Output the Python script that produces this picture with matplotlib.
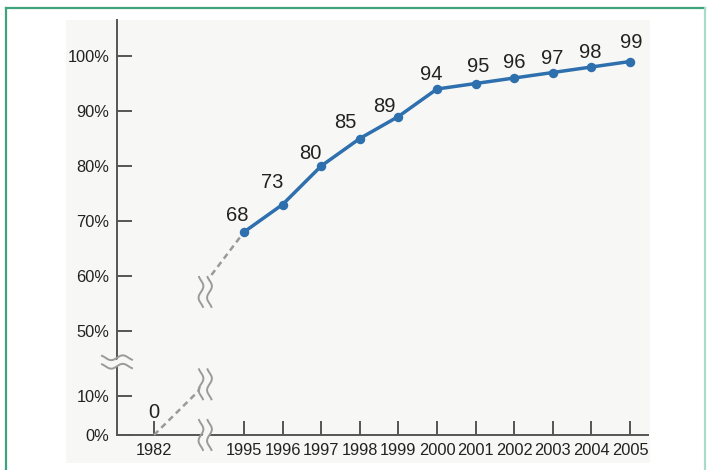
import numpy as np
import matplotlib
matplotlib.use("Agg")
import matplotlib.pyplot as plt
import matplotlib.transforms as mtransforms
from matplotlib.patches import Rectangle
from matplotlib.lines import Line2D

# --- data ---------------------------------------------------------------
years = [1982, 1995, 1996, 1997, 1998, 1999, 2000, 2001, 2002, 2003, 2004, 2005]
values = [0, 68, 73, 80, 85, 89, 94, 95, 96, 97, 98, 99]
ytick_values = [0, 10, 50, 60, 70, 80, 90, 100]
ytick_labels = ["0%", "10%", "50%", "60%", "70%", "80%", "90%", "100%"]

# where the dashed connector meets the axis breaks
break_year = 1989.4
break_low, break_high = 13.0, 58.7

# label nudges (pixels) relative to each point
label_dx = [0, -6.5, -10.5, -10.5, -14, -14.5, -6, 3, 0, -1, -1, 1]
label_dy = [17, 11, 16.5, 7, 11, 4.3, 9, 12, 10, 8, 9, 13]

# --- styling ------------------------------------------------------------
LINE_BLUE = "#2e6fae"
DASH_GREY = "#9a9a9a"
AXIS_GREY = "#555555"
PANEL = "#f7f7f5"
TEXT = "#222222"
FONT = ["Liberation Sans", "DejaVu Sans"]
plt.rcParams["font.family"] = FONT

W, H, DPI = 707, 470, 100
fig = plt.figure(figsize=(W / DPI, H / DPI), dpi=DPI)
fig.patch.set_facecolor("white")


def fx(px):
    return px / W


def fy(py):
    return 1 - py / H


# green frame and light panel
fig.add_artist(Line2D([fx(6), fx(6)], [fy(8), fy(471)], color="#3fa37c", lw=1.6))
fig.add_artist(Line2D([fx(6), fx(705)], [fy(8), fy(8)], color="#3fa37c", lw=1.6))
fig.add_artist(Line2D([fx(705), fx(705)], [fy(8), fy(471)], color="#a8dcc8", lw=1.6))
fig.add_artist(Rectangle((fx(66), fy(463)), fx(650) - fx(66), fy(20) - fy(463),
                         transform=fig.transFigure, facecolor=PANEL,
                         edgecolor="none", zorder=0))

ax = fig.add_axes([fx(117), fy(435), fx(648) - fx(117), fy(20) - fy(435)])
ax.set_facecolor("none")

# piecewise scales: compressed lower y band, compressed early x range
y_in = [-100, 0, 16, 48, 200]
y_out = [-390, 0, 62.4, 93, 104 + 150 * 5.5]
x_in = [1900, 1982, 1995, 2100]
x_out = [37 - 82 * (90 / 13), 37, 127, 127 + 105 * 38.6]

ax.set_yscale("function", functions=(lambda v: np.interp(v, y_in, y_out),
                                     lambda u: np.interp(u, y_out, y_in)))
ax.set_xscale("function", functions=(lambda v: np.interp(v, x_in, x_out),
                                     lambda u: np.interp(u, x_out, x_in)))
ax.set_ylim(0, 50 + 311 / 5.5)
ax.set_xlim(1982 - 37 / (90 / 13), 2005 + 18 / 38.6)

# dashed connectors across the breaks
ax.plot([years[0], break_year], [values[0], break_low], color=DASH_GREY,
        lw=1.8, ls=(0, (2.4, 1.7)), zorder=3, clip_on=False)
ax.plot([break_year, years[1]], [break_high, values[1]], color=DASH_GREY,
        lw=1.8, ls=(0, (2.4, 1.7)), zorder=3, clip_on=False)

# main series
ax.plot(years[1:], values[1:], color=LINE_BLUE, lw=2.5, marker="o", ms=5.8,
        zorder=5, clip_on=False)

for yr, v, dx, dy in zip(years, values, label_dx, label_dy):
    ax.annotate(f"{v}", (yr, v), xytext=(dx * 0.72, dy * 0.72),
                textcoords="offset points", ha="center", va="baseline",
                fontsize=14.5, color=TEXT)

# axes
for side in ("top", "right"):
    ax.spines[side].set_visible(False)
for side in ("left", "bottom"):
    ax.spines[side].set_color(AXIS_GREY)
    ax.spines[side].set_linewidth(1.4)

ax.set_yticks(ytick_values)
ax.set_yticklabels(ytick_labels)
ax.set_xticks(years)
ax.set_xticklabels([str(y) for y in years])
ax.minorticks_off()
ax.tick_params(axis="y", direction="in", length=10.5, width=1.4,
               color=AXIS_GREY, pad=5.5, labelsize=11.8, labelcolor=TEXT)
ax.tick_params(axis="x", direction="in", length=10, width=1.4,
               color=AXIS_GREY, pad=6, labelsize=11.8, labelcolor=TEXT)


def wavy_break(transform, vertical=True, length=0.30, gap=0.085):
    """Draw a pair of wavy strokes (an axis-break symbol) in inches."""
    t = np.linspace(-0.5, 0.5, 60)
    along = t * length
    wave = 0.024 * np.sin(t * 2 * np.pi * 1.3)
    for off in (-gap / 2, gap / 2):
        if vertical:
            xs, ys = wave + off, along
        else:
            xs, ys = along, wave + off
        ax.plot(xs, ys, color=DASH_GREY, lw=1.4, transform=transform,
                clip_on=False, zorder=6)
    # blank out whatever runs between the two strokes
    if vertical:
        ax.fill_betweenx(along, wave - gap / 2 + 0.01, wave + gap / 2 - 0.01,
                         color=PANEL, transform=transform, clip_on=False,
                         zorder=5.5, lw=0)
    else:
        ax.fill_between(along, wave - gap / 2 + 0.01, wave + gap / 2 - 0.01,
                        color=PANEL, transform=transform, clip_on=False,
                        zorder=5.5, lw=0)


def at_data(x, y):
    return fig.dpi_scale_trans + mtransforms.ScaledTranslation(x, y, ax.transData)


fig.canvas.draw()
wavy_break(at_data(break_year, (break_high + 57.5) / 2 - 1.0))
wavy_break(at_data(break_year, break_low))
wavy_break(fig.dpi_scale_trans +
           mtransforms.ScaledTranslation(break_year, 0, ax.get_xaxis_transform()))
wavy_break(fig.dpi_scale_trans +
           mtransforms.ScaledTranslation(0, 73 / 415, ax.transAxes),
           vertical=False, length=0.30)

fig.savefig("out.png", dpi=DPI)
